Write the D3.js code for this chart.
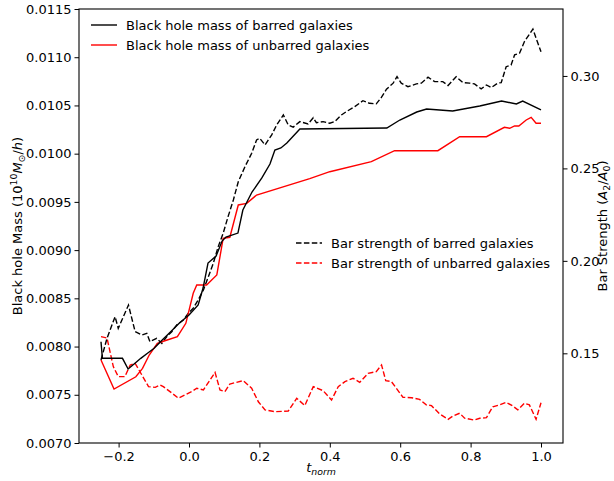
<!DOCTYPE html>
<html>
<head>
<meta charset="utf-8">
<script src="https://cdn.jsdelivr.net/npm/d3@7"></script>
<style>
  body { margin: 0; background: #fff; }
  svg { font-family: "DejaVu Sans", sans-serif; }
</style>
</head>
<body>
<svg width="614" height="481"></svg>
<script>
// black hole mass, barred galaxies (left axis)
const bhBarredT = [-0.25,-0.246,-0.189,-0.173,-0.156,-0.137,-0.118,-0.099,-0.076,-0.052,-0.028,0,0.026,0.040,0.054,0.077,0.094,0.105,0.139,0.153,0.179,0.207,0.230,0.244,0.261,0.278,0.315,0.562,0.599,0.647,0.675,0.749,0.826,0.888,0.930,0.948,1.0];
const bhBarred = [0.008050,0.007878,0.007878,0.007767,0.007819,0.007878,0.007930,0.007982,0.008068,0.008154,0.008241,0.008327,0.008431,0.008607,0.008866,0.008939,0.009094,0.009136,0.009177,0.009416,0.009602,0.009748,0.009893,0.010038,0.010059,0.010111,0.010256,0.010266,0.010349,0.010432,0.010463,0.010442,0.010494,0.010546,0.010515,0.010546,0.010453];

// black hole mass, unbarred galaxies (left axis)
const bhUnbarredT = [-0.25,-0.213,-0.151,-0.132,-0.113,-0.090,-0.062,-0.033,-0.009,0.012,0.022,0.050,0.079,0.097,0.116,0.140,0.164,0.192,0.343,0.400,0.518,0.584,0.707,0.769,0.845,0.896,0.911,0.925,0.937,0.958,0.972,0.986,1.0];
const bhUnbarred = [0.007861,0.007560,0.007687,0.007774,0.007912,0.008034,0.008068,0.008102,0.008241,0.008552,0.008638,0.008638,0.008742,0.009122,0.009133,0.009468,0.009485,0.009571,0.009742,0.009813,0.009917,0.010031,0.010031,0.010176,0.010176,0.010273,0.010263,0.010287,0.010287,0.010349,0.010377,0.010315,0.010315];

// bar strength, barred galaxies (right axis)
const bsBarredT = [-0.25,-0.233,-0.210,-0.201,-0.172,-0.153,-0.134,-0.120,-0.111,-0.092,-0.077,-0.063,-0.049,-0.035,-0.016,-0.002,0.012,0.026,0.041,0.055,0.069,0.083,0.097,0.111,0.126,0.140,0.159,0.178,0.192,0.201,0.216,0.235,0.249,0.268,0.282,0.296,0.315,0.338,0.353,0.362,0.381,0.400,0.414,0.433,0.447,0.471,0.494,0.513,0.532,0.547,0.561,0.580,0.591,0.603,0.622,0.646,0.660,0.679,0.698,0.721,0.736,0.759,0.778,0.797,0.811,0.830,0.845,0.859,0.877,0.887,0.901,0.915,0.925,0.939,0.953,0.977,0.986,1.0];
const bsBarred = [0.1464,0.1581,0.1698,0.1635,0.1761,0.1617,0.1599,0.1608,0.1563,0.1581,0.1554,0.1590,0.1617,0.1653,0.1680,0.1717,0.1744,0.1788,0.1843,0.1914,0.1987,0.2077,0.2149,0.2239,0.2329,0.2428,0.2509,0.2582,0.2654,0.2663,0.2627,0.2681,0.2735,0.2789,0.2735,0.2723,0.2753,0.2740,0.2774,0.2747,0.2753,0.2744,0.2753,0.2789,0.2807,0.2834,0.2866,0.2852,0.2849,0.2885,0.2928,0.2961,0.2996,0.2961,0.2942,0.2957,0.2961,0.2993,0.2969,0.2969,0.2948,0.2996,0.2964,0.2961,0.2957,0.2930,0.2951,0.2937,0.2961,0.2964,0.3050,0.3059,0.3114,0.3123,0.3186,0.3253,0.3204,0.3131];

// bar strength, unbarred galaxies (right axis)
const bsUnbarredT = [-0.25,-0.233,-0.215,-0.201,-0.182,-0.167,-0.153,-0.134,-0.115,-0.096,-0.082,-0.073,-0.054,-0.030,-0.011,0.008,0.022,0.041,0.074,0.088,0.102,0.116,0.154,0.178,0.197,0.216,0.244,0.282,0.306,0.329,0.353,0.381,0.405,0.424,0.443,0.466,0.485,0.509,0.532,0.547,0.559,0.575,0.589,0.608,0.632,0.655,0.674,0.689,0.712,0.736,0.750,0.769,0.783,0.811,0.826,0.845,0.863,0.882,0.901,0.920,0.934,0.953,0.967,0.986,1.0];
const bsUnbarred = [0.1590,0.1583,0.1428,0.1374,0.1374,0.1437,0.1446,0.1383,0.1320,0.1316,0.1329,0.1320,0.1293,0.1257,0.1275,0.1293,0.1311,0.1302,0.1397,0.1302,0.1293,0.1334,0.1352,0.1311,0.1238,0.1194,0.1184,0.1188,0.1257,0.1217,0.1320,0.1298,0.1248,0.1320,0.1347,0.1365,0.1343,0.1392,0.1401,0.1437,0.1352,0.1347,0.1311,0.1262,0.1260,0.1251,0.1221,0.1217,0.1172,0.1143,0.1161,0.1176,0.1149,0.1139,0.1149,0.1152,0.1211,0.1221,0.1235,0.1215,0.1194,0.1230,0.1221,0.1143,0.1233];

const xTicks = [-0.2,0,0.2,0.4,0.6,0.8,1.0];
const leftTicks = d3.range(0.0070, 0.01151, 0.0005);
const rightTicks = [0.15,0.20,0.25,0.30];

const svg = d3.select('svg');
const margin = {left:79, top:9, right:51, bottom:38};
const W = 614 - margin.left - margin.right;
const H = 481 - margin.top - margin.bottom;
const fs = 13;

const x = d3.scaleLinear().domain([-0.3125, 1.0625]).range([0, W]);
const yL = d3.scaleLinear().domain([0.0070, 0.0115]).range([H, 0]);
const yR = d3.scaleLinear().domain([0.1015, 0.3362]).range([H, 0]);

const g = svg.append('g').attr('transform', `translate(${margin.left},${margin.top})`);

// axes
const gx = g.append('g').attr('transform', `translate(0,${H})`)
    .call(d3.axisBottom(x).tickValues(xTicks).tickFormat(d3.format('.1f')).tickSize(4.5).tickPadding(4));
const gyl = g.append('g')
    .call(d3.axisLeft(yL).tickValues(leftTicks).tickFormat(d3.format('.4f')).tickSize(4.5).tickPadding(3));
const gyr = g.append('g').attr('transform', `translate(${W},0)`)
    .call(d3.axisRight(yR).tickValues(rightTicks).tickFormat(d3.format('.2f')).tickSize(4.5).tickPadding(3));

[gx, gyl, gyr].forEach(a => {
  a.select('.domain').remove();
  a.selectAll('text').attr('font-size', fs).attr('fill', '#000').attr('font-family', '"DejaVu Sans", sans-serif');
  a.selectAll('line').attr('stroke', '#000').attr('stroke-width', 1);
});

// lines
const lineL = d3.line().x(d => x(d[0])).y(d => yL(d[1]));
const lineR = d3.line().x(d => x(d[0])).y(d => yR(d[1]));
const zip = (a, b) => a.map((v, i) => [v, b[i]]);

const dash = '5.5,2.4';
g.append('path').datum(zip(bsUnbarredT, bsUnbarred)).attr('d', lineR)
  .attr('fill','none').attr('stroke','red').attr('stroke-width',1.4).attr('stroke-dasharray', dash);
g.append('path').datum(zip(bsBarredT, bsBarred)).attr('d', lineR)
  .attr('fill','none').attr('stroke','#000').attr('stroke-width',1.4).attr('stroke-dasharray', dash);
g.append('path').datum(zip(bhUnbarredT, bhUnbarred)).attr('d', lineL)
  .attr('fill','none').attr('stroke','red').attr('stroke-width',1.4);
g.append('path').datum(zip(bhBarredT, bhBarred)).attr('d', lineL)
  .attr('fill','none').attr('stroke','#000').attr('stroke-width',1.4);

// frame
g.append('rect').attr('width', W).attr('height', H)
  .attr('fill','none').attr('stroke','#000').attr('stroke-width',1.1);

// legends
const legend1 = [
  {label:'Black hole mass of barred galaxies', color:'#000', dash:null},
  {label:'Black hole mass of unbarred galaxies', color:'red', dash:null}
];
const legend2 = [
  {label:'Bar strength of barred galaxies', color:'#000', dash:dash},
  {label:'Bar strength of unbarred galaxies', color:'red', dash:dash}
];
function drawLegend(items, lx, ly) {
  const lg = svg.append('g').attr('transform', `translate(${lx},${ly})`);
  items.forEach((d, i) => {
    const row = lg.append('g').attr('transform', `translate(0,${i*20})`);
    row.append('line').attr('x1',0).attr('x2',26).attr('y1',0).attr('y2',0)
      .attr('stroke', d.color).attr('stroke-width',1.4).attr('stroke-dasharray', d.dash);
    row.append('text').attr('x',35).attr('y',0).attr('dy','0.35em')
      .attr('font-size', fs).text(d.label);
  });
}
drawLegend(legend1, 91, 25);
drawLegend(legend2, 296, 243);

// x label
const xl = svg.append('text').attr('x', margin.left + W/2).attr('y', 472)
  .attr('text-anchor','middle').attr('font-size', fs);
xl.append('tspan').attr('font-style','italic').text('t');
xl.append('tspan').attr('font-style','italic').attr('font-size', fs*0.72).attr('dy', 3).text('norm');

// left y label
const yl = svg.append('text').attr('transform', `translate(22,${margin.top + H/2}) rotate(-90)`)
  .attr('text-anchor','middle').attr('font-size', fs);
yl.append('tspan').text('Black hole Mass (10');
yl.append('tspan').attr('font-size', fs*0.72).attr('dy', -5).text('10');
yl.append('tspan').attr('font-style','italic').attr('dy', 5).text('M');
yl.append('tspan').attr('font-size', fs*0.72).attr('dy', 3).text('⊙');
yl.append('tspan').attr('dy', -3).text('/');
yl.append('tspan').attr('font-style','italic').text('h');
yl.append('tspan').text(')');

// right y label
const yr = svg.append('text').attr('transform', `translate(607,${margin.top + H/2}) rotate(-90)`)
  .attr('text-anchor','middle').attr('font-size', fs);
yr.append('tspan').text('Bar Strength (');
yr.append('tspan').attr('font-style','italic').text('A');
yr.append('tspan').attr('font-size', fs*0.72).attr('dy', 2.5).text('2');
yr.append('tspan').attr('dy', -2.5).text('/');
yr.append('tspan').attr('font-style','italic').text('A');
yr.append('tspan').attr('font-size', fs*0.72).attr('dy', 2.5).text('0');
yr.append('tspan').attr('dy', -2.5).text(')');
</script>
</body>
</html>
